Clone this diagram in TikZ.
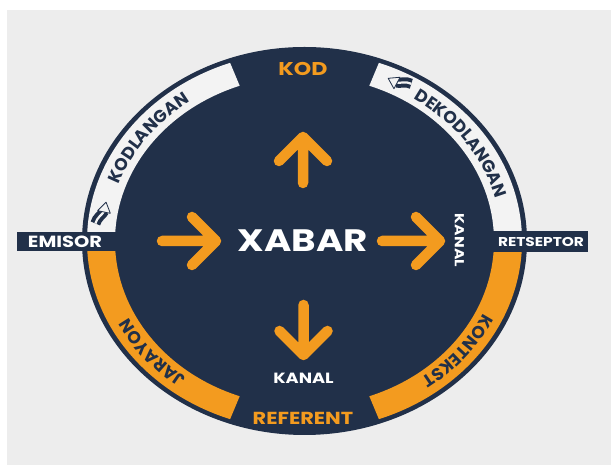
\documentclass[tikz,border=0pt]{standalone}
\usepackage{fontspec}
\setmainfont{Poppins}[FakeStretch=1.2]
\newfontfamily\bandfam{Poppins}
\usetikzlibrary{decorations.text, arrows.meta}

\definecolor{navy}{HTML}{213049}
\definecolor{amber}{HTML}{F39B1F}
\definecolor{bandwhite}{HTML}{F3F3F3}
\definecolor{bggray}{HTML}{EDEDED}

\newcommand{\bandfont}{\bandfam\fontsize{17.2pt}{17.2pt}\selectfont\bfseries}

\begin{document}
\begin{tikzpicture}[x=1pt, y=1pt,
  lbl/.style={inner sep=0pt, text=white, font=\bfseries},
  tag/.style={fill=navy, inner sep=0pt},
  flow/.style={draw=amber, line width=10.5pt, line cap=round, line join=round},
  bandtext/.style={decorate, decoration={text along path, text align=center, text color=navy, text={|\bandfont|#1}}},
  hollowarrow/.pic={
    \draw[navy, line width=4pt, double=bandwhite, double distance=2.2pt]
      (-13,-6) .. controls (-7,-6) and (-3,-1) .. (1,0);
    \filldraw[fill=bandwhite, draw=navy, line width=0.8pt, line join=round]
      (0,-6.5) -- (10,0) -- (0,6.5) -- cycle;
  }
]
\useasboundingbox (0,0) rectangle (611,465);
\fill[white] (0,0) rectangle (611,465);
\fill[bggray] (7,0) rectangle (611,455);

% main disc
\fill[navy] (304.5,224) ellipse [x radius=222.5pt, y radius=194pt];

\begin{scope}[shift={(304.5,224)}]
  % coloured ring segments
  \fill[bandwhite] (110:217.5pt and 189.6pt) arc[start angle=110, end angle=180, x radius=217.5pt, y radius=189.6pt]
     -- (180:189.5pt and 165.2pt) arc[start angle=180, end angle=110, x radius=189.5pt, y radius=165.2pt] -- cycle;
  \fill[bandwhite] (0:217.5pt and 189.6pt) arc[start angle=0, end angle=70, x radius=217.5pt, y radius=189.6pt]
     -- (70:189.5pt and 165.2pt) arc[start angle=70, end angle=0, x radius=189.5pt, y radius=165.2pt] -- cycle;
  \fill[amber] (180:217.5pt and 189.6pt) arc[start angle=180, end angle=250, x radius=217.5pt, y radius=189.6pt]
     -- (250:189.5pt and 165.2pt) arc[start angle=250, end angle=180, x radius=189.5pt, y radius=165.2pt] -- cycle;
  \fill[amber] (290:217.5pt and 189.6pt) arc[start angle=290, end angle=360, x radius=217.5pt, y radius=189.6pt]
     -- (360:189.5pt and 165.2pt) arc[start angle=360, end angle=290, x radius=189.5pt, y radius=165.2pt] -- cycle;

  % curved labels in the ring
  \path[bandtext=KODLANGAN] (170:197pt and 171pt) arc[start angle=170, end angle=117, x radius=197pt, y radius=171pt];
  \path[bandtext=DEKODLANGAN] (63:197pt and 171pt) arc[start angle=63, end angle=7, x radius=197pt, y radius=171pt];
  \path[bandtext=JARAYON] (250:197pt and 171pt) arc[start angle=250, end angle=188, x radius=197pt, y radius=171pt];
  \path[bandtext=KONTEKST] (352:197pt and 171pt) arc[start angle=352, end angle=291, x radius=197pt, y radius=171pt];
\end{scope}

% small hollow arrows in the white segments
\pic[rotate=78, yscale=-1] (enc) at (104,253) {hollowarrow};
\pic[rotate=152] (dec) at (397,382) {hollowarrow};

% side tags
\node[tag, minimum width=101pt, minimum height=19pt] (emisorbox) at (67.5,223.5) {};
\node[lbl, font=\bfseries\fontsize{16.2pt}{16.2pt}\selectfont] (emisor) at (65,223.5) {EMISOR};
\node[tag, minimum width=103pt, minimum height=21pt] (retbox) at (536.5,223.5) {};
\node[lbl, font=\bfseries\fontsize{12.8pt}{12.8pt}\selectfont] (retseptor) at (541,223.5) {RETSEPTOR};

% centre texts
\node[lbl, font=\bfseries\fontsize{31pt}{31pt}\selectfont] (xabar) at (303,224) {XABAR};
\node[lbl, text=amber, font=\bfseries\fontsize{18.5pt}{18.5pt}\selectfont] (kod) at (303,396) {KOD};
\node[lbl, text=amber, font=\bfseries\fontsize{17.4pt}{17.4pt}\selectfont] (referent) at (303,47) {REFERENT};
\node[lbl, font=\bfseries\fontsize{14.8pt}{14.8pt}\selectfont] (kanalb) at (303.5,87) {KANAL};
\node[lbl, rotate=-90, font=\bfseries\fontsize{13pt}{13pt}\selectfont] (kanalr) at (459.5,224.5) {KANAL};

% arrows
\coordinate (la0) at (162,224); \coordinate (la1) at (216,224);
\coordinate (ra0) at (382,224); \coordinate (ra1) at (440,224);
\coordinate (ua0) at (303,282); \coordinate (ua1) at (303,328);
\coordinate (da0) at (303.5,160); \coordinate (da1) at (303.5,110);
\draw[flow] (la0) -- (la1) ++(-24,24) -- (la1) -- ++(-24,-24);
\draw[flow] (ra0) -- (ra1) ++(-24,24) -- (ra1) -- ++(-24,-24);
\draw[flow] (ua0) -- (ua1) ++(-24,-24) -- (ua1) -- ++(24,-24);
\draw[flow] (da0) -- (da1) ++(-24,24) -- (da1) -- ++(24,24);
\end{tikzpicture}
\end{document}
